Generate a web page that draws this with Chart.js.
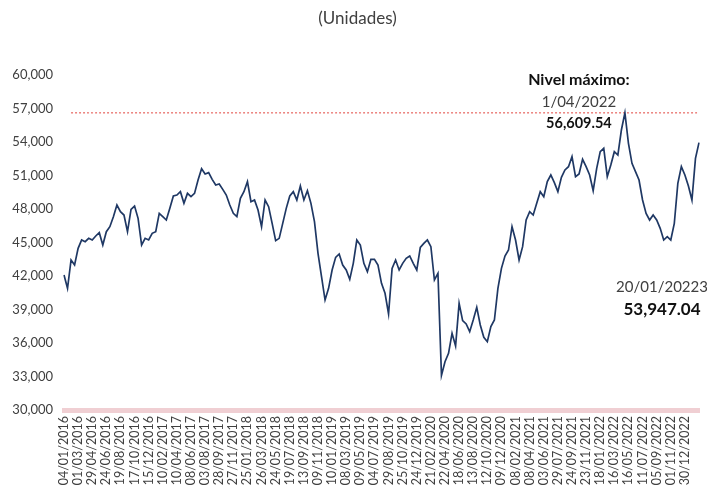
<!DOCTYPE html>
<html>
<head>
<meta charset="utf-8">
<script src="https://cdn.jsdelivr.net/npm/chart.js@4.4.1/dist/chart.umd.min.js"></script>
<style>
  html, body { margin: 0; padding: 0; background: #fff; }
  #wrap { width: 707px; height: 491px; }
</style>
</head>
<body>
<div id="wrap"><canvas id="chart" width="707" height="491"></canvas></div>
<script>
// x-axis tick labels (one every 4 points)
const tickLabels = [
    '04/01/2016', '01/03/2016', '29/04/2016', '24/06/2016', '19/08/2016', '17/10/2016', '15/12/2016',
    '10/02/2017', '10/04/2017', '08/06/2017', '03/08/2017', '28/09/2017', '27/11/2017',
    '25/01/2018', '26/03/2018', '24/05/2018', '19/07/2018', '13/09/2018', '09/11/2018',
    '10/01/2019', '08/03/2019', '09/05/2019', '04/07/2019', '29/08/2019', '25/10/2019', '24/12/2019',
    '21/02/2020', '22/04/2020', '18/06/2020', '13/08/2020', '12/10/2020', '09/12/2020',
    '08/02/2021', '08/04/2021', '03/06/2021', '29/07/2021', '24/09/2021', '23/11/2021',
    '18/01/2022', '16/03/2022', '16/05/2022', '11/07/2022', '05/09/2022', '01/11/2022', '30/12/2022'
];
const pointsPerTick = 4;

// index level (roughly every 10 trading days)
const values = [
    42090, 40895, 43432, 42985, 44477, 45224, 45074, 45373, 45224, 45582,
    45880, 44776, 45970, 46418, 47313, 48358, 47761, 47462, 45970, 47970,
    48268, 47164, 44776, 45373, 45224, 45820, 45970, 47611, 47313, 47014,
    48059, 49164, 49253, 49552, 48507, 49402, 49104, 49402, 50597, 51600,
    51134, 51253, 50656, 50149, 50238, 49761, 49253, 48358, 47611, 47313,
    48955, 49552, 50447, 48656, 48805, 47910, 46418, 48805, 48208, 46716,
    45164, 45373, 46716, 48059, 49164, 49552, 48805, 50059, 48805, 49641,
    48507, 46865, 44029, 41940, 39850, 40895, 42537, 43671, 43970, 42985,
    42537, 41701, 43134, 45224, 44776, 43134, 42387, 43492, 43492, 42985,
    41343, 40448, 38600, 42686, 43432, 42537, 43134, 43582, 43791, 43134,
    42537, 44567, 44925, 45224, 44627, 41641, 42238, 33100, 34328, 35074,
    36866, 35731, 39552, 38000, 37701, 37015, 38059, 39194, 37612, 36507,
    36119, 37462, 38059, 40895, 42686, 43791, 44328, 46417, 45224, 43432,
    44627, 47014, 47761, 47462, 48507, 49552, 49104, 50447, 51044, 50358,
    49552, 50835, 51492, 51791, 52686, 50895, 51134, 52447, 51791, 51044,
    49641, 51641, 53134, 53432, 50895, 51940, 53134, 52835, 55074, 56609.54,
    53880, 52089, 51343, 50597, 48806, 47611, 47014, 47462, 47014, 46268,
    45224, 45522, 45224, 46716, 50298, 51791, 51044, 50059, 48806, 52537,
    53947.04
];

const maxDate = '1/04/2022';
const lastDate = '20/01/20223';

const maxValue = Math.max(...values);
const maxIndex = values.indexOf(maxValue);
const lastIndex = values.length - 1;
const lastValue = values[lastIndex];

const labels = values.map((v, i) => i % pointsPerTick === 0 ? (tickLabels[i / pointsPerTick] || '') : '');
const maxLine = values.map((v, i) => i < 2 ? null : maxValue);

const fmt = (v, d) => v.toLocaleString('en-US', { minimumFractionDigits: d, maximumFractionDigits: d });
const FONT = 'Lato, "DejaVu Sans", sans-serif';

// title and the two value notes
const notes = {
    id: 'notes',
    afterDraw(chart) {
        const ctx = chart.ctx;
        const xs = chart.scales.x;
        const ys = chart.scales.y;
        ctx.save();
        ctx.textAlign = 'center';
        ctx.textBaseline = 'middle';

        ctx.fillStyle = '#404040';
        ctx.font = '17px ' + FONT;
        ctx.fillText('(Unidades)', chart.width / 2 + 4, 19);

        const mx = xs.getPixelForValue(maxIndex) - 46;
        const my = ys.getPixelForValue(maxValue);
        ctx.fillStyle = '#111';
        ctx.font = 'bold 16px ' + FONT;
        ctx.fillText('Nivel máximo:', mx, my - 33);
        ctx.fillStyle = '#404040';
        ctx.font = '15px ' + FONT;
        ctx.fillText(maxDate, mx, my - 11);
        ctx.fillStyle = '#111';
        ctx.font = 'bold 14.5px ' + FONT;
        ctx.fillText(fmt(maxValue, 2), mx, my + 10);

        const lx = xs.getPixelForValue(lastIndex) - 37;
        const ly = ys.getPixelForValue(lastValue);
        ctx.fillStyle = '#404040';
        ctx.font = '15px ' + FONT;
        ctx.fillText(lastDate, lx, ly + 145);
        ctx.fillStyle = '#111';
        ctx.font = 'bold 17px ' + FONT;
        ctx.fillText(fmt(lastValue, 2), lx, ly + 167);
        ctx.restore();
    }
};

const ctx = document.getElementById('chart').getContext('2d');
new Chart(ctx, {
    type: 'line',
    data: {
        labels: labels,
        datasets: [{
            data: values,
            borderColor: '#1f3864',
            borderWidth: 1.7,
            pointRadius: 0,
            tension: 0
        }, {
            data: maxLine,
            borderColor: '#e0403a',
            borderWidth: 1,
            borderDash: [2, 2],
            pointRadius: 0
        }]
    },
    options: {
        responsive: false,
        animation: false,
        layout: { padding: { top: 75, right: 8, left: 0, bottom: 0 } },
        plugins: {
            legend: { display: false },
            tooltip: { enabled: false }
        },
        scales: {
            x: {
                grid: { display: false, drawTicks: false },
                border: { display: true, color: '#f0cfd3', width: 5 },
                ticks: {
                    autoSkip: false,
                    minRotation: 90,
                    maxRotation: 90,
                    padding: 6,
                    color: '#404040',
                    font: { family: FONT, size: 12.5 }
                },
                afterFit: (scale) => {
                    scale.height = 81;
                    scale.paddingLeft = 0;
                    scale.paddingRight = 0;
                }
            },
            y: {
                min: 30000,
                max: 60000,
                grid: { display: false, drawTicks: false },
                border: { display: false },
                ticks: {
                    stepSize: 3000,
                    padding: 11,
                    color: '#404040',
                    font: { family: FONT, size: 13 },
                    callback: (v) => fmt(v, 0)
                },
                afterFit: (scale) => { scale.width = 64; }
            }
        }
    },
    plugins: [notes]
});
</script>
</body>
</html>
